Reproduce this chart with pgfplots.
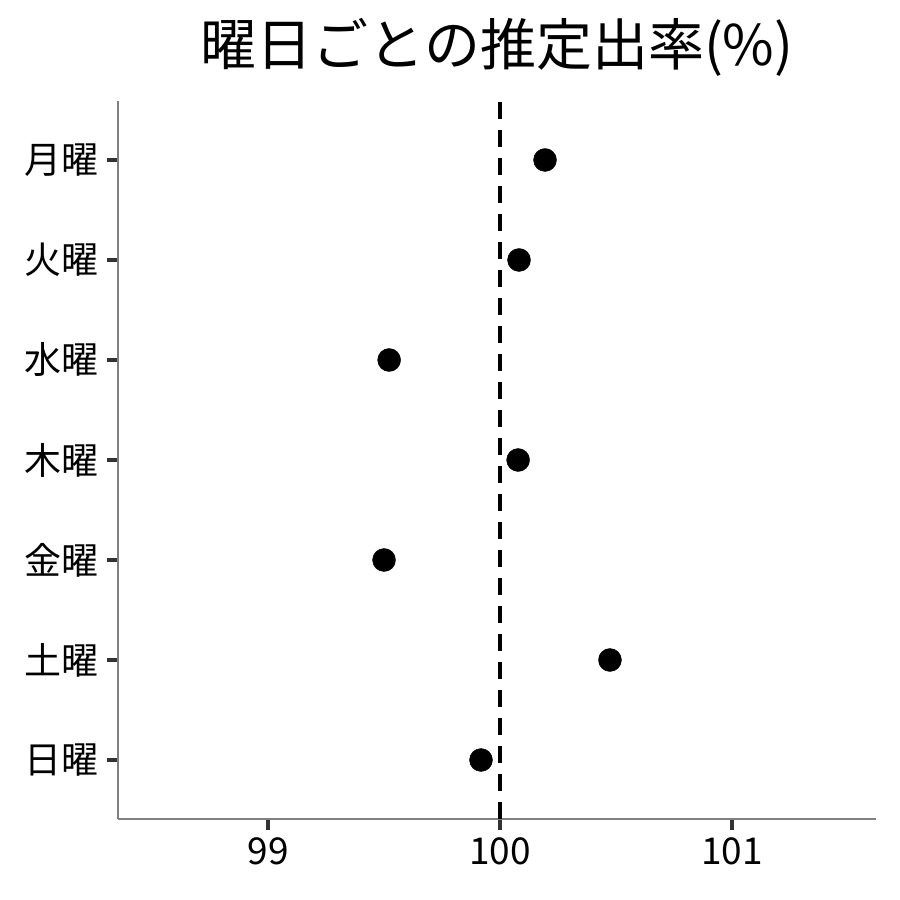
\documentclass[border=0pt]{standalone}
\usepackage{fontspec}
\setmainfont{Noto Sans CJK JP}
\usepackage{pgfplots}
\pgfplotsset{compat=1.18}
\definecolor{axisgray}{HTML}{808080}
\definecolor{tickgray}{HTML}{333333}

\begin{document}
\begin{tikzpicture}
\path[use as bounding box] (-118bp,-81bp) rectangle (782bp,819bp);
\begin{axis}[
    at={(0,0)}, anchor=south west,
    scale only axis,
    width=758bp, height=718bp,
    xmin=98.353, xmax=101.621,
    ymin=0.41, ymax=7.59,
    axis x line*=bottom,
    axis y line*=left,
    axis line style={axisgray, line width=1.2bp, -},
    xtick={99,100,101},
    ytick={1,...,7},
    yticklabels={日曜,土曜,金曜,木曜,水曜,火曜,月曜},
    tick align=outside,
    major tick length=11bp,
    xtick style={draw=tickgray, line width=3.6bp},
    ytick style={draw=tickgray, line width=3.6bp},
    /pgf/number format/assume math mode=true,
    ticklabel style={font=\fontsize{37bp}{44bp}\selectfont},
    xticklabel style={yshift=-4bp},
    yticklabel style={xshift=-5bp},
    clip=false,
]
\addplot[black, line width=3.5bp, dash pattern=on 17bp off 11bp]
    coordinates {(100,0.41) (100,7.59)};
\addplot[only marks, mark=*, mark size=11.5bp, black]
    coordinates {
    (99.918,1)
    (100.474,2)
    (99.500,3)
    (100.078,4)
    (99.522,5)
    (100.082,6)
    (100.194,7)
    };
\node[font=\fontsize{56bp}{64bp}\selectfont] at (rel axis cs:0.5,1) [yshift=54bp] {曜日ごとの推定出率(\%)};
\end{axis}
\end{tikzpicture}
\end{document}
